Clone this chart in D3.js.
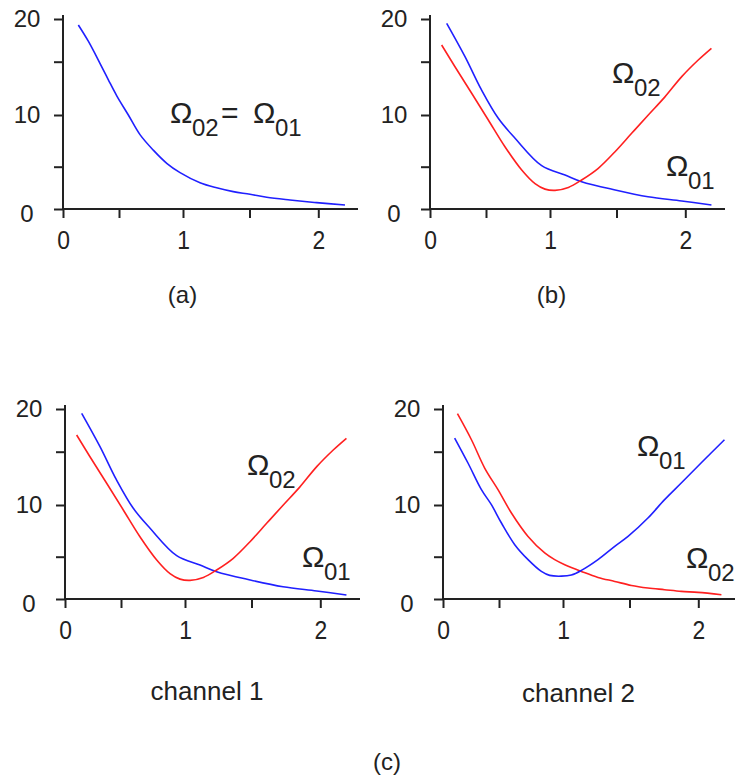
<!DOCTYPE html>
<html>
<head>
<meta charset="utf-8">
<script src="https://cdn.jsdelivr.net/npm/d3@7"></script>
<style>
  body { margin: 0; background: #fff; }
  text { font-family: "Liberation Sans", Arial, sans-serif; fill: #222; }
</style>
</head>
<body>
<svg id="chart" width="735" height="780"></svg>
<script>
'use strict'

// ticks
var xTicks = [0, 0.5, 1, 1.5, 2]
var yTicks = [0, 5, 10, 15, 20]

// panel (a): single curve, Omega02 = Omega01
var aX = [0.137, 0.226, 0.33, 0.405, 0.48, 0.573, 0.664, 0.768, 0.873, 0.977, 1.128, 1.253, 1.378, 1.504, 1.625, 1.794, 1.988, 2.194]
var aY = [19.3, 17.4, 14.85, 13.3, 11.8, 10.0, 8.1, 6.6, 5.33, 4.3, 3.1, 2.5, 2.05, 1.74, 1.38, 1.06, 0.75, 0.47]

// panel (b) and channel 1: Omega01 (blue) decays, Omega02 (red) has a dip
var b01X = [0.149, 0.3125, 0.46, 0.596, 0.727, 0.935, 1.113, 1.238, 1.49, 1.729, 1.974, 2.19]
var b01Y = [19.5, 15.6, 12.35, 9.68, 7.75, 5.1, 4.02, 3.23, 2.25, 1.45, 0.95, 0.47]
var b02X = [0.104, 0.223, 0.372, 0.518, 0.648, 0.779, 0.883, 0.961, 1.038, 1.138, 1.238, 1.363, 1.489, 1.61, 1.731, 1.852, 1.974, 2.094, 2.19]
var b02Y = [16.96, 14.53, 12.04, 9.52, 6.93, 4.61, 3.0, 2.35, 2.2, 2.55, 3.43, 4.81, 6.45, 8.23, 10.0, 11.7, 13.6, 15.2, 16.57]

// channel 2: roles swapped
var c01X = [0.104, 0.223, 0.343, 0.432, 0.519, 0.623, 0.727, 0.831, 0.896, 0.988, 1.063, 1.138, 1.263, 1.389, 1.489, 1.634, 1.755, 1.876, 2.02, 2.19]
var c01Y = [16.6, 13.94, 11.44, 10.03, 8.26, 6.16, 4.65, 3.26, 2.79, 2.7, 2.84, 3.38, 4.65, 6.0, 6.96, 8.74, 10.5, 12.06, 13.94, 16.4]
var c02X = [0.129, 0.254, 0.372, 0.491, 0.597, 0.727, 0.857, 0.935, 1.013, 1.138, 1.263, 1.389, 1.514, 1.634, 1.755, 1.876, 1.998, 2.168]
var c02Y = [19.45, 16.4, 13.47, 11.44, 9.23, 6.96, 5.36, 4.65, 4.05, 3.26, 2.55, 2.08, 1.6, 1.3, 1.1, 0.9, 0.78, 0.51]

function zip (xs, ys) {
  return xs.map(function (x, i) { return [x, ys[i]] })
}

var BLUE = '#2020ff'
var RED = '#ff2020'

var panels = [
  { left: 63, bottom: 209, series: [{ pts: zip(aX, aY), color: BLUE }],
    labels: [] },
  { left: 430, bottom: 209,
    series: [{ pts: zip(b01X, b01Y), color: BLUE }, { pts: zip(b02X, b02Y), color: RED }],
    labels: [{ x: 182, y: -126, sub: '02' }, { x: 236, y: -33, sub: '01' }] },
  { left: 65, bottom: 599,
    series: [{ pts: zip(b01X, b01Y), color: BLUE }, { pts: zip(b02X, b02Y), color: RED }],
    labels: [{ x: 182, y: -124, sub: '02' }, { x: 237, y: -32, sub: '01' }] },
  { left: 443, bottom: 599,
    series: [{ pts: zip(c02X, c02Y), color: RED }, { pts: zip(c01X, c01Y), color: BLUE }],
    labels: [{ x: 194, y: -143, sub: '01' }, { x: 243, y: -31, sub: '02' }] }
]

var captions = [
  { text: '(a)', x: 182.5, y: 303, size: 24 },
  { text: '(b)', x: 551.5, y: 303, size: 24 },
  { text: 'channel 1', x: 207, y: 700, size: 26 },
  { text: 'channel 2', x: 578.5, y: 702, size: 26 },
  { text: '(c)', x: 387, y: 770, size: 24 }
]

function omega (g, x, y, sub) {
  g.append('text')
    .attr('x', x).attr('y', y)
    .style('font-size', '30px')
    .text('\u03a9')
  g.append('text')
    .attr('x', x + 22).attr('y', y + 13)
    .style('font-size', '24px')
    .text(sub)
}

function panel (p) {
  var x = d3.scaleLinear().domain(xTicks).range([0, 56, 120, 186.5, 255.3])
  var y = d3.scaleLinear().domain(yTicks).range([0, -42.3, -94, -147.3, -190])

  function draw (selection) {
    var g = selection.append('g')
      .attr('transform', 'translate(' + p.left + ',' + p.bottom + ')')

    // axis lines, a bit longer than the tick range
    g.append('line')
      .attr('x1', 0).attr('x2', 295).attr('y1', 0).attr('y2', 0)
      .style('stroke', '#222').style('stroke-width', 2)
    g.append('line')
      .attr('x1', 0).attr('x2', 0).attr('y1', 0).attr('y2', -194)
      .style('stroke', '#222').style('stroke-width', 2)

    var xa = g.append('g')
      .call(d3.axisBottom(x).tickValues(xTicks).tickSize(9).tickSizeOuter(0)
        .tickFormat(function (d) { return d % 1 === 0 ? d : '' }))
    xa.select('.domain').remove()
    xa.selectAll('line').style('stroke', '#222').style('stroke-width', 2)
    xa.selectAll('text')
      .attr('y', 40).attr('dy', null)
      .style('font-size', '26px')
      .style('fill', '#222')
      .attr('transform', 'scale(0.88,1)')

    var ya = g.append('g')
      .call(d3.axisLeft(y).tickValues(yTicks).tickSize(9).tickSizeOuter(0)
        .tickFormat(function (d) { return d % 10 === 0 ? d : '' }))
    ya.select('.domain').remove()
    ya.selectAll('line').style('stroke', '#222').style('stroke-width', 2)
    ya.selectAll('text')
      .attr('x', -36).attr('dy', function (d) { return d === 0 ? '0.5em' : '0.33em' })
      .attr('text-anchor', 'middle')
      .style('font-size', '24px')
      .style('fill', '#222')

    var line = d3.line()
      .x(function (d) { return x(d[0]) })
      .y(function (d) { return y(d[1]) })
      .curve(d3.curveCatmullRom.alpha(0.5))

    g.selectAll('path.curve')
      .data(p.series)
      .enter().append('path')
      .classed('curve', true)
      .attr('d', function (d) { return line(d.pts) })
      .style('fill', 'none')
      .style('stroke', function (d) { return d.color })
      .style('stroke-width', 1.6)

    p.labels.forEach(function (l) { omega(g, l.x, l.y, l.sub) })
  }

  return draw
}

var svg = d3.select('#chart')

panels.forEach(function (p) { svg.call(panel(p)) })

// panel (a) label: Omega02 = Omega01
omega(svg, 170, 123, '02')
svg.append('text').attr('x', 221).attr('y', 123).style('font-size', '30px').text('=')
omega(svg, 253, 123, '01')

svg.selectAll('text.caption')
  .data(captions)
  .enter().append('text')
  .classed('caption', true)
  .attr('x', function (d) { return d.x })
  .attr('y', function (d) { return d.y })
  .attr('text-anchor', 'middle')
  .style('font-size', function (d) { return d.size + 'px' })
  .text(function (d) { return d.text })
</script>
</body>
</html>
